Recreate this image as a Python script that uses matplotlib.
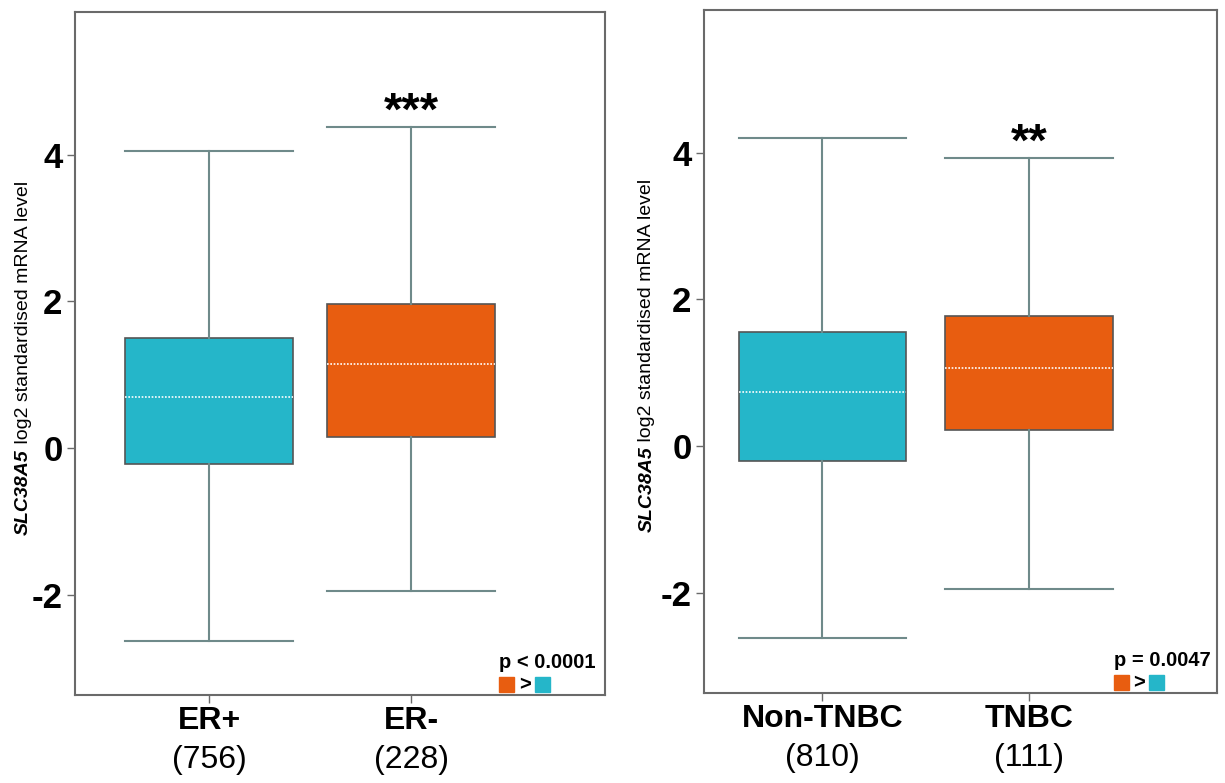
import matplotlib
matplotlib.use('Agg')
import matplotlib.pyplot as plt
from matplotlib.patches import Rectangle

plt.rcParams['font.family'] = ['Liberation Sans', 'DejaVu Sans']

# box statistics (log2 standardised mRNA level)
left_groups = ['ER+', 'ER-']
left_counts = ['(756)', '(228)']
left_q1 = [-0.22, 0.15]
left_med = [0.70, 1.14]
left_q3 = [1.50, 1.96]
left_lo = [-2.63, -1.95]
left_hi = [4.05, 4.38]
left_stars = '***'
left_p = 'p < 0.0001'

right_groups = ['Non-TNBC', 'TNBC']
right_counts = ['(810)', '(111)']
right_q1 = [-0.20, 0.22]
right_med = [0.74, 1.06]
right_q3 = [1.56, 1.77]
right_lo = [-2.62, -1.95]
right_hi = [4.21, 3.93]
right_stars = '**'
right_p = 'p = 0.0047'

teal = '#25b6c9'
orange = '#e85d10'
whisk = '#6f8a8a'
spine = '#6a6a6a'

fig = plt.figure(figsize=(12.25, 7.83), dpi=100)
ax1 = fig.add_axes([0.0612, 0.1124, 0.4327, 0.8723])
ax2 = fig.add_axes([0.5747, 0.1149, 0.4188, 0.8723])


def draw_panel(ax, groups, counts, q1, med, q3, lo, hi, stars, ptext, xlim, width):
    stats = []
    for i in range(len(groups)):
        stats.append(dict(med=med[i], q1=q1[i], q3=q3[i],
                          whislo=lo[i], whishi=hi[i], fliers=[]))
    bp = ax.bxp(stats, positions=[1, 2], widths=width, patch_artist=True,
                showfliers=False,
                boxprops=dict(edgecolor='#555555', linewidth=1.2),
                whiskerprops=dict(color=whisk, linewidth=1.5),
                capprops=dict(color=whisk, linewidth=1.5),
                medianprops=dict(color='white', linewidth=1.2,
                                 linestyle=(0, (1, 1))),
                capwidths=width)
    for patch, c in zip(bp['boxes'], [teal, orange]):
        patch.set_facecolor(c)
    ax.set_xlim(xlim)
    ax.set_ylim(-3.37, 5.95)
    ax.set_yticks([-2, 0, 2, 4])
    ax.set_yticklabels(['-2', '0', '2', '4'], fontsize=25, fontweight='bold')
    ax.set_xticks([1, 2])
    ax.set_xticklabels(groups, fontsize=23, fontweight='bold')
    ax.tick_params(axis='y', direction='out', length=6, width=1,
                   color=spine, pad=3)
    ax.tick_params(axis='x', direction='out', length=6, width=1,
                   color=spine, pad=2)
    for s in ax.spines.values():
        s.set_color(spine)
        s.set_linewidth(1.5)
    trans = ax.get_xaxis_transform()
    for x, c in zip([1, 2], counts):
        ax.text(x, -0.095, c, transform=trans, ha='center', va='center',
                fontsize=23)
    ax.text(2, hi[1] + 0.03, stars, ha='center', va='baseline',
            fontsize=34, fontweight='bold')
    # p value note and colour key in the lower right corner
    ax.text(0.80, 0.048, ptext, transform=ax.transAxes, ha='left',
            va='center', fontsize=14.5, fontweight='bold')
    ax.add_patch(Rectangle((0.800, 0.004), 0.028, 0.022,
                           transform=ax.transAxes, color=orange,
                           clip_on=False))
    ax.text(0.837, 0.015, '>', transform=ax.transAxes, ha='left',
            va='center', fontsize=14.5, fontweight='bold')
    ax.add_patch(Rectangle((0.868, 0.004), 0.028, 0.022,
                           transform=ax.transAxes, color=teal,
                           clip_on=False))


draw_panel(ax1, left_groups, left_counts, left_q1, left_med, left_q3,
           left_lo, left_hi, left_stars, left_p, (0.337, 2.96), 0.83)
draw_panel(ax2, right_groups, right_counts, right_q1, right_med, right_q3,
           right_lo, right_hi, right_stars, right_p, (0.427, 2.91), 0.81)

# y labels: gene name in bold italic followed by plain text
for xpos, ybot in [(0.019, 0.317), (0.528, 0.320)]:
    t1 = fig.text(xpos, ybot, 'SLC38A5',
                  rotation=90, ha='center', va='bottom', fontsize=14,
                  fontweight='bold', fontstyle='italic')
    fig.canvas.draw()
    fig.axes[0].annotate(' log2 standardised mRNA level', xy=(0.5, 1),
                         xycoords=t1, rotation=90, ha='center', va='bottom',
                         fontsize=14, annotation_clip=False)

fig.savefig('out.png', dpi=100)
